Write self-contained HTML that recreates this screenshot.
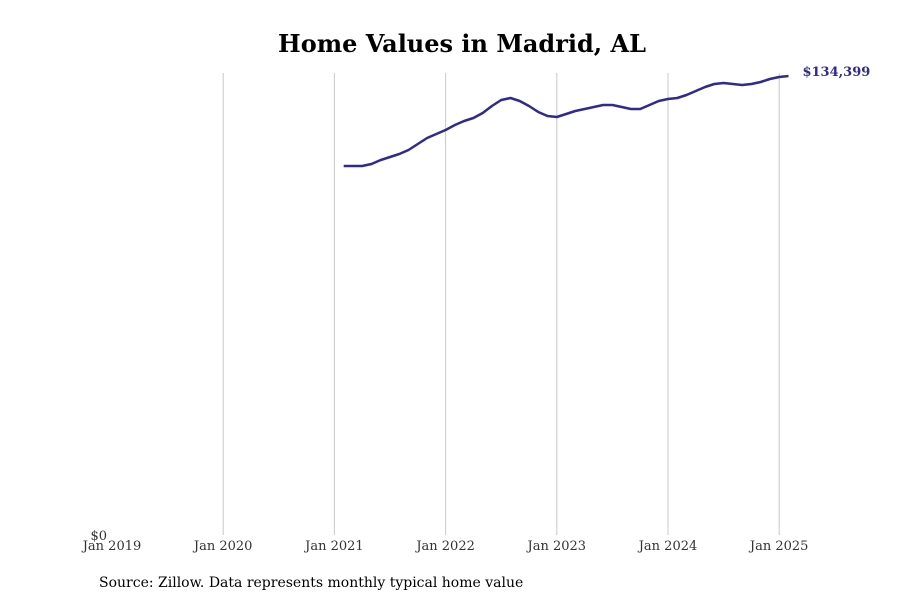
<!DOCTYPE html>
<html><head><meta charset="utf-8"><style>
body{margin:0;background:#fff;}
svg{display:block;font-family:"DejaVu Serif","Liberation Serif",serif;}
</style></head><body>
<svg width="900" height="600">
<text x="462" y="52" text-anchor="middle" font-size="24" font-weight="bold">Home Values in Madrid, AL</text>
<g id="grid"></g>
<g id="xticks"></g>
<text x="107" y="540" text-anchor="end" font-size="13" fill="#333">$0</text>
<path id="line" fill="none" stroke="#2e2a8f" stroke-width="2.5" stroke-linejoin="round"></path>
<text id="endlabel" font-size="13" font-weight="bold" fill="#2e2a8f"></text>
<text x="99" y="587" font-size="14">Source: Zillow. Data represents monthly typical home value</text>
</svg>
<script>
const yearLabels=["Jan 2019","Jan 2020","Jan 2021","Jan 2022","Jan 2023","Jan 2024","Jan 2025"];
const startMonth=[2021,2];
const values=[108043,108043,108043,108629,109800,110678,111557,112728,114485,116242,117413,118584,120048,121219,122098,123562,125611,127368,127954,127075,125611,123855,122684,122391,123269,124147,124733,125318,125904,125904,125318,124733,124733,125904,127075,127661,127954,128833,130004,131175,132053,132346,132053,131760,132053,132639,133517,134103,134399];
const ns="http://www.w3.org/2000/svg";
const x0=112,pxYear=111.2,yBase=535,yRef=76,vRef=134399;
function xScale(year,month){return x0+(year-2019+(month-1)/12)*pxYear;}
function yScale(v){return yBase-(v/vRef)*(yBase-yRef);}
const grid=document.getElementById('grid'),xt=document.getElementById('xticks');
yearLabels.forEach((l,i)=>{
  const x=xScale(2019+i,1);
  if(i>0){const ln=document.createElementNS(ns,'line');
  ln.setAttribute('x1',x);ln.setAttribute('x2',x);ln.setAttribute('y1',73);ln.setAttribute('y2',535);
  ln.setAttribute('stroke','#c8c8c8');ln.setAttribute('stroke-width','1');
  
  
  grid.appendChild(ln);}
  const t=document.createElementNS(ns,'text');
  t.setAttribute('x',x);t.setAttribute('y',550);t.setAttribute('text-anchor','middle');
  t.setAttribute('font-size','13');t.setAttribute('fill','#333');t.textContent=l;
  
  
  xt.appendChild(t);
});
let d='',lx=0,ly=0;
values.forEach((v,i)=>{
  const m=startMonth[1]-1+i;
  const x=xScale(startMonth[0]+Math.floor(m/12),(m%12)+1),y=yScale(v);
  d+=(i?'L':'M')+x.toFixed(1)+','+y.toFixed(1);lx=x;ly=y;
});
document.getElementById('line').setAttribute('d',d);
const el=document.getElementById('endlabel');
el.setAttribute('x',lx+14);el.setAttribute('y',ly);
el.textContent='$'+values[values.length-1].toLocaleString('en-US');
</script>
</body></html>
